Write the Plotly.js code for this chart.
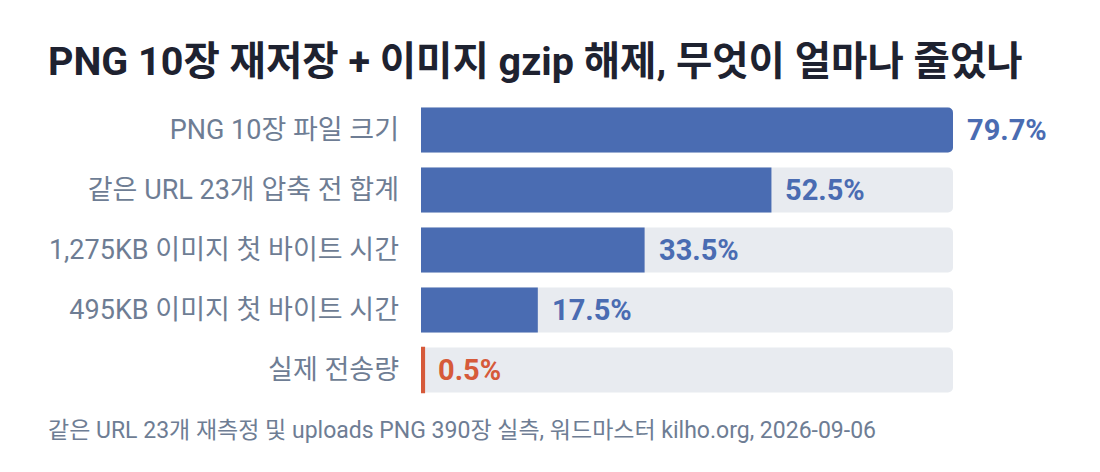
<!DOCTYPE html>
<html>
<head>
<meta charset="utf-8">
<script src="https://cdn.plot.ly/plotly-3.0.1.min.js"></script>
<style>
  html, body { margin: 0; padding: 0; background: #fff; }
  #chart { width: 1100px; height: 472px; }
</style>
</head>
<body>
<div id="chart"></div>
<script>
// ---- Data ----
const categories = [
  'PNG 10장 파일 크기',
  '같은 URL 23개 압축 전 합계',
  '1,275KB 이미지 첫 바이트 시간',
  '495KB 이미지 첫 바이트 시간',
  '실제 전송량',
];
const reductionPct = [79.7, 52.5, 33.5, 17.5, 0.5];
const isTransfer   = [false, false, false, false, true];

const titleText  = 'PNG 10장 재저장 + 이미지 gzip 해제, 무엇이 얼마나 줄었나';
const sourceText = '같은 URL 23개 재측정 및 uploads PNG 390장 실측, 워드마스터 kilho.org, 2026-09-06';

// ---- Style ----
const FONT   = 'Roboto, "Noto Sans CJK KR", sans-serif';
const BLUE   = '#4a6cb2';
const RED    = '#d65a3a';
const TRACK  = '#e8ebf0';
const LABEL  = '#6e7d94';
const TITLE  = '#1e2230';

const maxVal   = Math.max(...reductionPct);
const barColor = isTransfer.map(t => t ? RED : BLUE);

// background track behind each bar, as long as the largest value
const track = {
  type: 'bar',
  orientation: 'h',
  y: categories,
  x: categories.map(() => maxVal),
  marker: { color: TRACK },
  hoverinfo: 'skip',
  showlegend: false,
};

const bars = {
  type: 'bar',
  orientation: 'h',
  y: categories,
  x: reductionPct,
  marker: {
    color: barColor,
    line: { color: barColor, width: isTransfer.map(t => t ? 1.5 : 0) },
  },
  hovertemplate: '%{y}: %{x:.1f}%<extra></extra>',
  showlegend: false,
};

const valueLabels = reductionPct.map((v, i) => ({
  x: v,
  y: categories[i],
  xref: 'x',
  yref: 'y',
  text: v.toFixed(1) + '%',
  showarrow: false,
  xanchor: 'left',
  xshift: 12,
  font: { family: FONT, size: 29, color: barColor[i], weight: 'bold' },
}));

const layout = {
  width: 1100,
  height: 472,
  paper_bgcolor: '#ffffff',
  plot_bgcolor: '#ffffff',
  font: { family: FONT, color: LABEL },
  margin: { l: 421, r: 147, t: 100, b: 72 },
  barmode: 'overlay',
  bargap: 0.25,
  barcornerradius: 5,
  title: {
    text: '<b>' + titleText + '</b>',
    xref: 'container',
    x: 48 / 1100,
    xanchor: 'left',
    yref: 'container',
    y: 1 - 61 / 472,
    yanchor: 'middle',
    font: { family: FONT, size: 39.5, color: TITLE },
  },
  xaxis: {
    range: [0, maxVal],
    visible: false,
    fixedrange: true,
  },
  yaxis: {
    autorange: 'reversed',
    showgrid: false,
    zeroline: false,
    showline: false,
    ticks: '',
    ticklabelstandoff: 21,
    tickfont: { family: FONT, size: 27, color: LABEL },
    fixedrange: true,
  },
  annotations: [
    ...valueLabels,
    {
      text: sourceText,
      xref: 'paper', yref: 'paper',
      x: -421 / 532 + 46 / 532, y: 0,
      xanchor: 'left', yanchor: 'middle',
      yshift: -30,
      showarrow: false,
      font: { family: FONT, size: 23, color: LABEL },
    },
  ],
};

Plotly.newPlot('chart', [track, bars], layout, { displayModeBar: false, staticPlot: true });
</script>
</body>
</html>
